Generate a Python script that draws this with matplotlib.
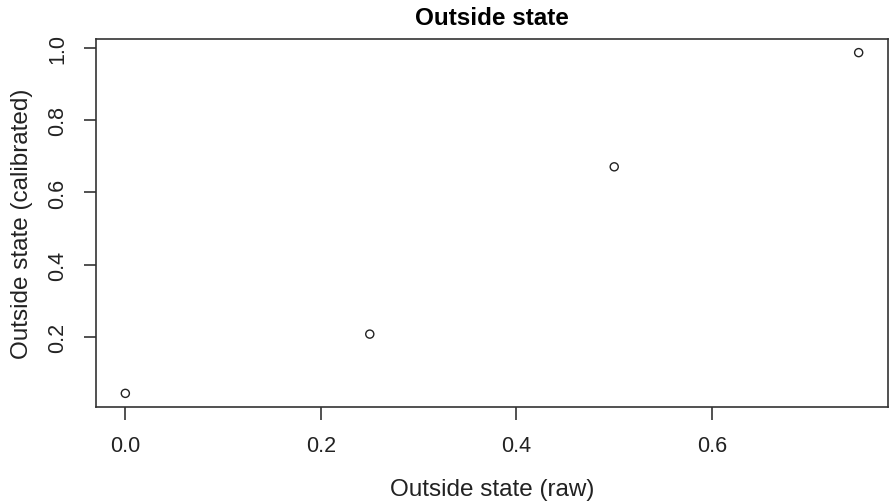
import matplotlib
matplotlib.use("Agg")
import matplotlib.pyplot as plt

raw = [0.0, 0.25, 0.5, 0.75]
calibrated = [0.044, 0.208, 0.671, 0.987]
xticks = [0.0, 0.2, 0.4, 0.6]
yticks = [0.2, 0.4, 0.6, 0.8, 1.0]

plt.rcParams['font.family'] = ['Liberation Sans', 'DejaVu Sans']

fig = plt.figure(figsize=(8.89, 5.02), dpi=100)
ax = fig.add_axes([96/889, 1-408/502, (888-96)/889, (408-40)/502])

ax.scatter(raw, calibrated, s=34, facecolors='none', edgecolors='#222222', linewidths=1.0)

xr = max(raw) - min(raw)
yr = max(calibrated) - min(calibrated)
ax.set_xlim(min(raw) - 0.04*xr, max(raw) + 0.04*xr)
ax.set_ylim(min(calibrated) - 0.04*yr, max(calibrated) + 0.04*yr)

ax.set_xticks(xticks)
ax.set_xticklabels([f"{v:.1f}" for v in xticks])
ax.set_yticks(yticks)
ax.set_yticklabels([f"{v:.1f}" for v in yticks], rotation=90, va='center')

ax.tick_params(axis='both', length=9, width=1.2, colors='#333333', labelsize=15.5, labelcolor='#222222')
ax.tick_params(axis='x', pad=11)
ax.tick_params(axis='y', pad=11)
for s in ax.spines.values():
    s.set_linewidth(1.2)
    s.set_color('#333333')

ax.set_xlabel("Outside state (raw)", fontsize=17.5, labelpad=16, color='#222222')
ax.set_ylabel("Outside state (calibrated)", fontsize=17.5, labelpad=10, color='#222222')
ax.set_title("Outside state", fontsize=17.5, fontweight='bold', pad=11)

fig.savefig("out.png", dpi=100)
